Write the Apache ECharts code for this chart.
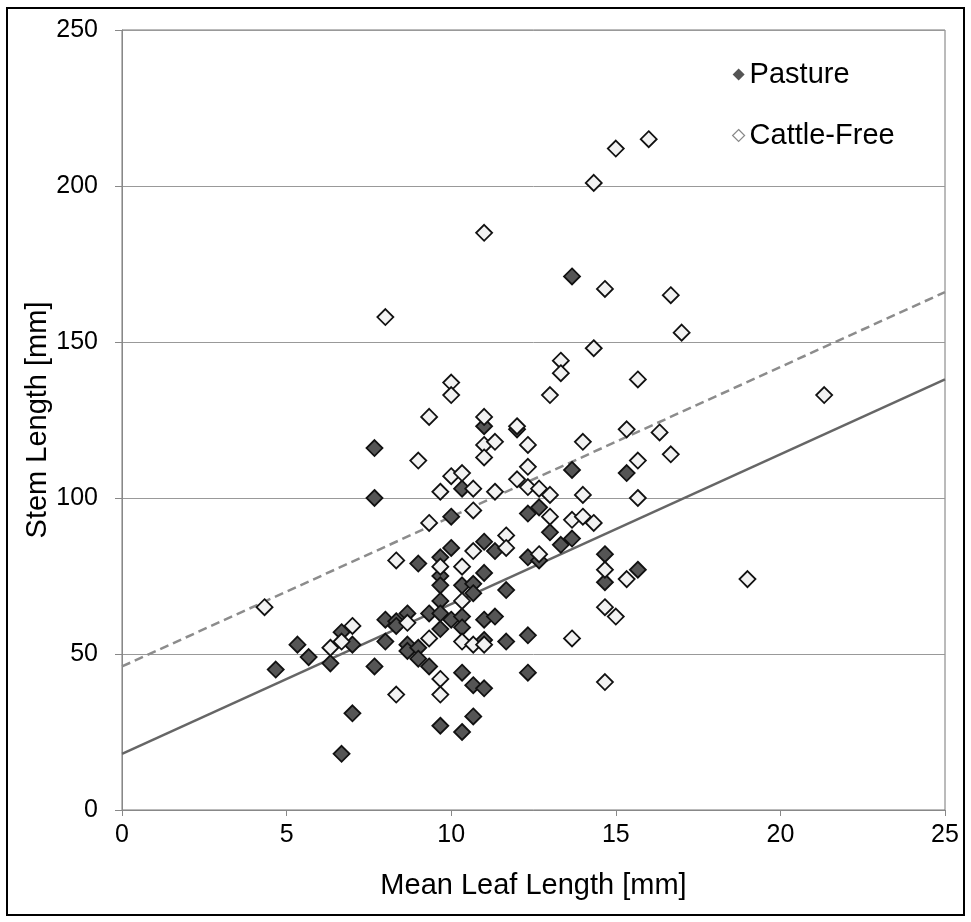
<!DOCTYPE html>
<html><head><meta charset="utf-8">
<script src="https://cdn.jsdelivr.net/npm/echarts@6/dist/echarts.min.js"></script>
<style>html,body{margin:0;padding:0;background:#fff}#c{width:971px;height:922px}</style>
</head><body><div id="c"></div>
<script>
// Pasture: [mean leaf length, stem length]
const pasture = [
  [4.67,45],[5.33,53],[5.67,49],[6.33,47],[6.67,18],[6.67,57],[7.0,53],[7.0,31],
  [7.67,100],[7.67,116],[7.67,46],[8.0,61],[8.0,54],[8.33,60.5],[8.33,59],
  [8.67,63],[8.67,53],[8.67,51],[9.0,79],[9.0,52],[9.0,48.5],[9.33,63],[9.33,46],
  [9.67,81],[9.67,75],[9.67,72],[9.67,67],[9.67,63],[9.67,58],[9.67,27],
  [10.0,94],[10.0,84],[10.0,61],[10.33,103],[10.33,72],[10.33,62],[10.33,58.5],
  [10.33,44],[10.33,25],[10.67,72.5],[10.67,69.5],[10.67,40],[10.67,30],
  [11.0,123],[11.0,86],[11.0,76],[11.0,61],[11.0,54.5],[11.0,39],
  [11.33,83],[11.33,62],[11.67,70.5],[11.67,54],[12.0,122],[12.33,95],[12.33,81],
  [12.33,56],[12.33,44],[12.67,97],[12.67,80],[13.0,89],[13.33,85],
  [13.67,171],[13.67,109],[13.67,87],[14.67,82],[14.67,73],[15.33,108],[15.67,77]
];
// Cattle-Free: [mean leaf length, stem length]
const cattleFree = [
  [4.33,65],[6.33,52],[6.67,54],[7.0,59],[8.0,158],[8.33,80],[8.33,37],[8.67,60],
  [9.0,112],[9.33,126],[9.33,92],[9.33,55],[9.67,102],[9.67,78],[9.67,42],[9.67,37],
  [10.0,137],[10.0,133],[10.0,107],[10.33,108],[10.33,78],[10.33,67],[10.33,54],
  [10.67,103],[10.67,96],[10.67,83],[10.67,53],[11.0,185],[11.0,126],[11.0,117],
  [11.0,113],[11.0,53],[11.33,118],[11.33,102],[11.67,88],[11.67,84],[12.0,123],
  [12.0,106],[12.33,117],[12.33,110],[12.33,103.5],[12.67,103],[12.67,82],
  [13.0,133],[13.0,101],[13.0,94],[13.33,144],[13.33,140],[13.67,93],[13.67,55],
  [14.0,118],[14.0,101],[14.0,94],[14.33,201],[14.33,148],[14.33,92],[14.67,167],
  [14.67,77],[14.67,65],[14.67,41],[15.0,212],[15.0,62],[15.33,122],[15.33,74],
  [15.67,138],[15.67,112],[15.67,100],[16.0,215],[16.33,121],[16.67,165],
  [16.67,114],[17.0,153],[19.0,74],[21.33,133]
];
// Trend line end points
const trendX = [0, 25];
const pastureTrend = [18, 138];
const cattleTrend = [46, 166];
const xTicks = [0, 5, 10, 15, 20, 25];
const yTicks = [0, 50, 100, 150, 200, 250];

const FONT = '"Liberation Sans", Arial, sans-serif';
const chart = echarts.init(document.getElementById('c'), null, {renderer: 'canvas'});
chart.setOption({
  animation: false,
  backgroundColor: '#fff',
  textStyle: {fontFamily: FONT},
  graphic: [{
    type: 'rect', silent: true, z: 100,
    shape: {x: 7, y: 8, width: 957, height: 907},
    style: {fill: 'none', stroke: '#000', lineWidth: 2}
  }],
  grid: {left: 122, top: 30, right: 26, bottom: 112, show: true, borderColor: '#777', borderWidth: 1},
  legend: {
    orient: 'vertical', left: 727, top: 55, itemGap: 32,
    itemWidth: 12, itemHeight: 12,
    textStyle: {fontFamily: FONT, fontSize: 29, color: '#000'},
    data: [
      {name: 'Pasture', icon: 'diamond', itemStyle: {color: '#555', borderColor: '#555', borderWidth: 0}},
      {name: 'Cattle-Free', icon: 'diamond', itemStyle: {color: '#fff', borderColor: '#888', borderWidth: 1.2}}
    ]
  },
  xAxis: {
    type: 'value', min: xTicks[0], max: xTicks[xTicks.length-1], interval: 5,
    name: 'Mean Leaf Length [mm]', nameLocation: 'middle', nameGap: 61,
    nameMoveOverlap: false,
    nameTextStyle: {fontFamily: FONT, fontSize: 29, color: '#000'},
    axisLine: {show: true, lineStyle: {color: '#888', width: 1}},
    axisTick: {show: true, inside: false, length: 6, lineStyle: {color: '#888'}},
    axisLabel: {fontFamily: FONT, fontSize: 25, color: '#000', margin: 13},
    splitLine: {show: false}
  },
  yAxis: {
    type: 'value', min: yTicks[0], max: yTicks[yTicks.length-1], interval: 50,
    name: 'Stem Length [mm]', nameLocation: 'middle', nameGap: 70, nameRotate: 90,
    nameMoveOverlap: false,
    nameTextStyle: {fontFamily: FONT, fontSize: 29, color: '#000'},
    axisLine: {show: true, lineStyle: {color: '#888', width: 1}},
    axisTick: {show: true, inside: false, length: 7, lineStyle: {color: '#888'}},
    axisLabel: {fontFamily: FONT, fontSize: 25, color: '#000', margin: 24},
    splitLine: {show: true, lineStyle: {color: '#999', width: 1}}
  },
  series: [
    {
      name: 'Pasture trend', type: 'line', z: 1, silent: true, symbol: 'none',
      data: trendX.map((x, i) => [x, pastureTrend[i]]),
      lineStyle: {color: '#666', width: 2.5, type: 'solid'}
    },
    {
      name: 'Cattle-Free trend', type: 'line', z: 1, silent: true, symbol: 'none',
      data: trendX.map((x, i) => [x, cattleTrend[i]]),
      lineStyle: {color: '#8c8c8c', width: 2.5, type: [9, 5]}
    },
    {
      name: 'Pasture', type: 'scatter', z: 3, symbol: 'diamond', symbolSize: 16,
      data: pasture,
      itemStyle: {color: '#555', borderColor: '#111', borderWidth: 1.8, opacity: 1}
    },
    {
      name: 'Cattle-Free', type: 'scatter', z: 3, symbol: 'diamond', symbolSize: 16,
      data: cattleFree,
      itemStyle: {color: '#f2f2f2', borderColor: '#111', borderWidth: 1.8, opacity: 1}
    }
  ]
});
</script>
</body></html>
